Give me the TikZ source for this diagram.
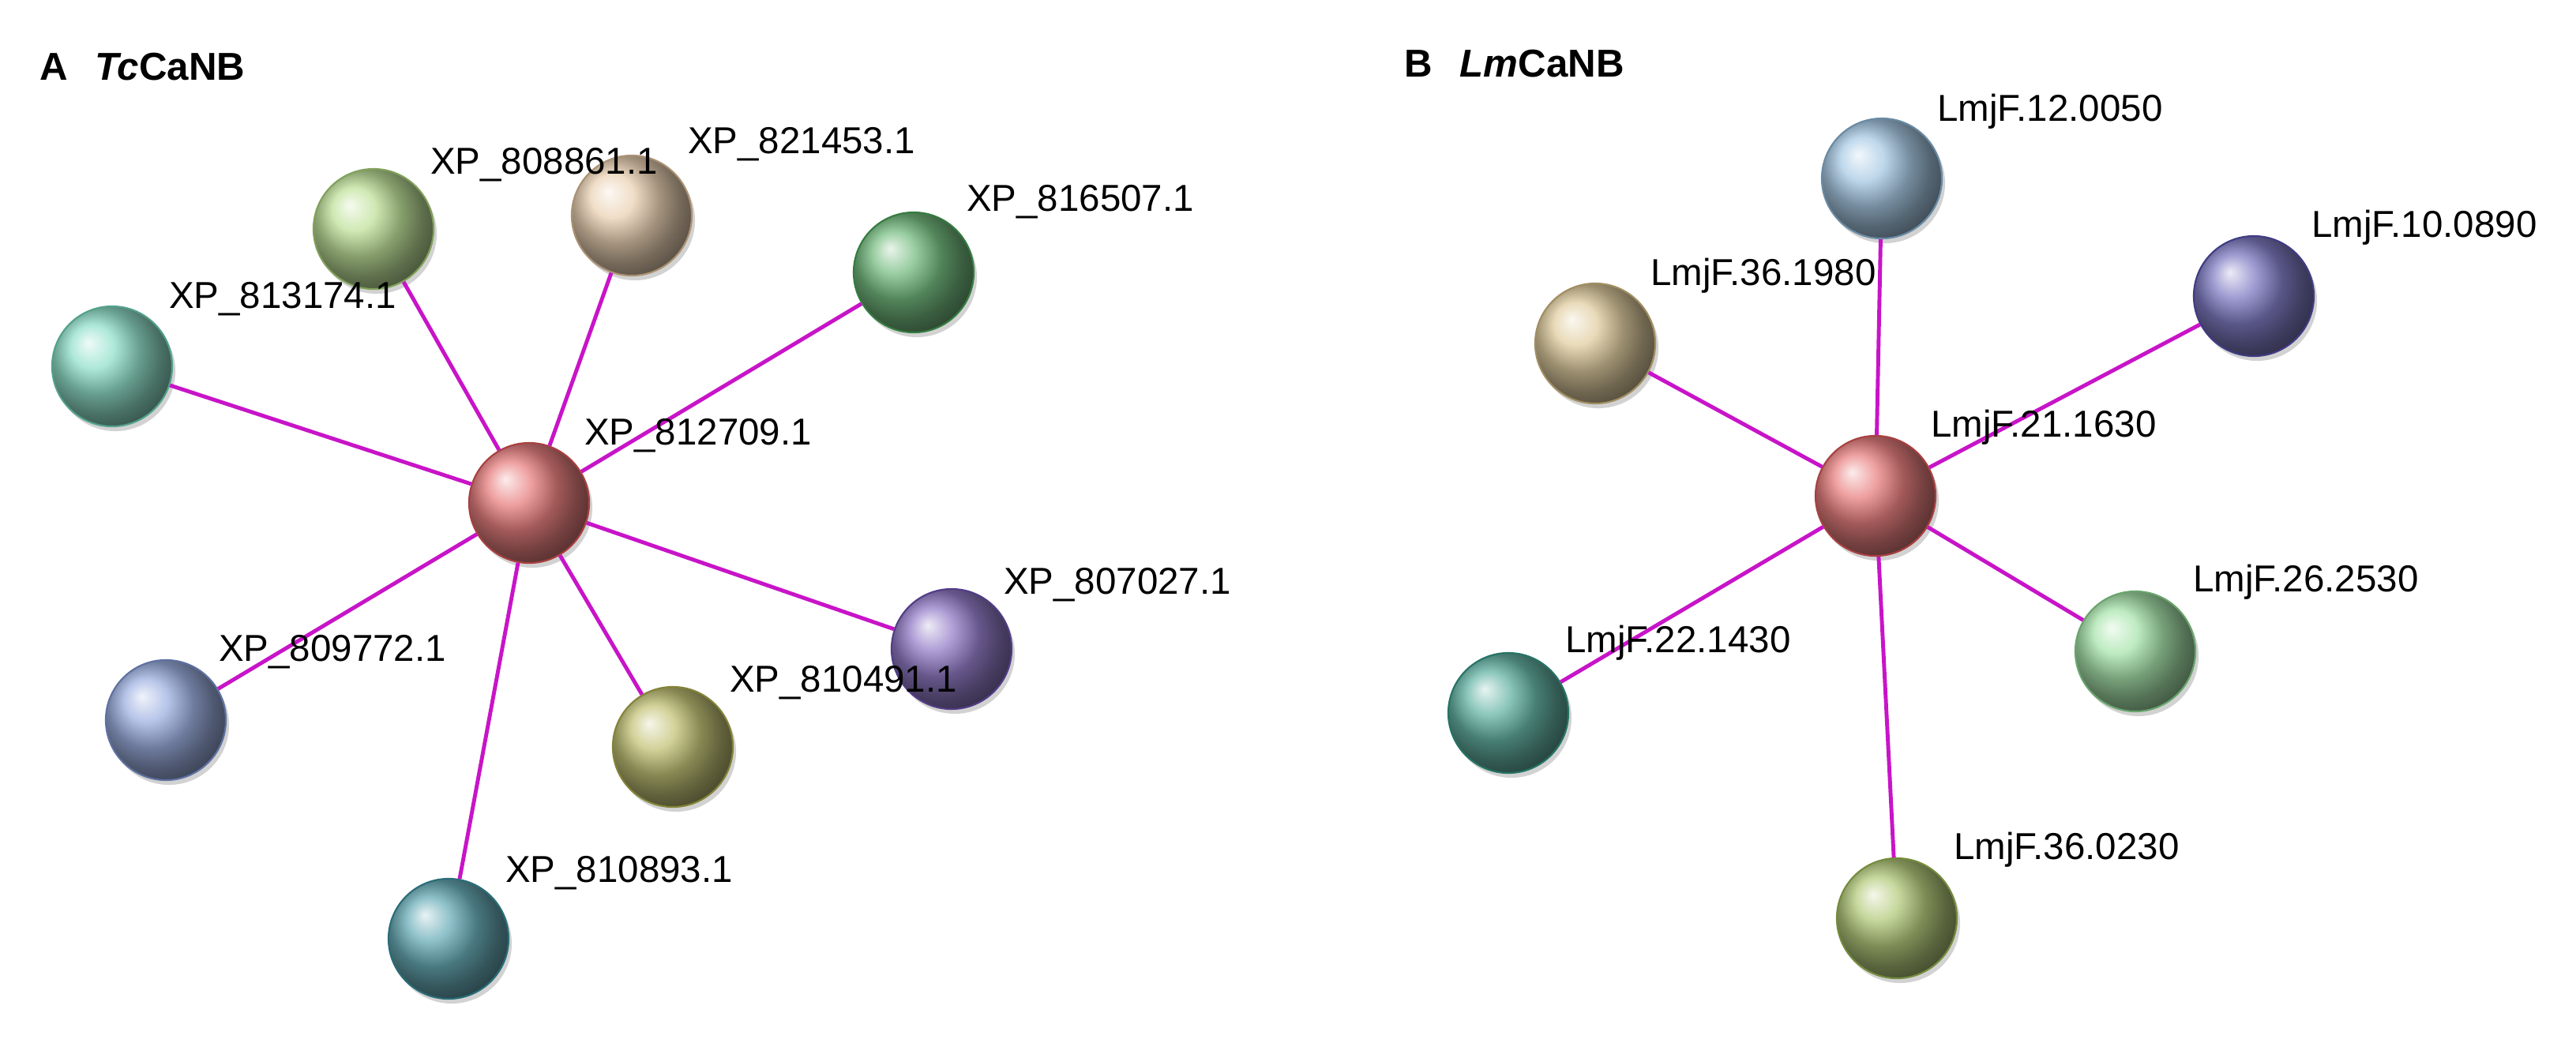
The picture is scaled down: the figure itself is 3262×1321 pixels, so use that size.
\documentclass[tikz,border=0pt]{standalone}
\usepackage{fontspec}
\setmainfont{Liberation Sans}
\usetikzlibrary{shadows}
\definecolor{edgec}{RGB}{200,20,200}
\tikzset{
  ball/.style={circle,minimum size=1.52cm,inner sep=0pt,ball color=#1!75!white,draw=#1!75!black,line width=0.6pt,drop shadow={opacity=0.35,shadow xshift=0.04cm,shadow yshift=-0.06cm}},
  lab/.style={font=\fontsize{13.5}{15}\selectfont,inner sep=0pt},
  ttl/.style={font=\fontsize{14}{16}\selectfont\bfseries,anchor=west,inner sep=0pt},
  edge/.style={draw=edgec,line width=1.4pt}
}
\definecolor{cred}{RGB}{225,85,85}
\definecolor{c1}{RGB}{170,215,120}
\definecolor{c2}{RGB}{228,195,155}
\definecolor{c3}{RGB}{70,165,85}
\definecolor{c4}{RGB}{110,215,185}
\definecolor{c5}{RGB}{125,150,215}
\definecolor{c6}{RGB}{175,175,75}
\definecolor{c7}{RGB}{110,80,180}
\definecolor{c8}{RGB}{55,145,160}
\definecolor{d1}{RGB}{140,185,220}
\definecolor{d2}{RGB}{85,80,175}
\definecolor{d3}{RGB}{215,190,130}
\definecolor{d4}{RGB}{140,220,145}
\definecolor{d5}{RGB}{50,155,135}
\definecolor{d6}{RGB}{155,185,80}
\begin{document}
\begin{tikzpicture}[x=0.01cm,y=-0.01cm]
\useasboundingbox[fill=white] (0,0) rectangle (3262,1321);
\node[ttl] (tA) at (50,85) {A\hspace{0.7em}\textit{Tc}CaNB};
\node[ttl] (tB) at (1778,81) {B\hspace{0.7em}\textit{Lm}CaNB};
% balls A
\node[ball=cred] (nA) at (670,637) {};
\node[ball=c1] (n1) at (473,290) {};
\node[ball=c2] (n2) at (800,273) {};
\node[ball=c3] (n3) at (1157,345) {};
\node[ball=c4] (n4) at (142,464) {};
\node[ball=c5] (n5) at (210,912) {};
\node[ball=c6] (n6) at (852,946) {};
\node[ball=c7] (n7) at (1205,822) {};
\node[ball=c8] (n8) at (568,1189) {};
% balls B
\node[ball=cred] (nB) at (2375,628) {};
\node[ball=d1] (m1) at (2383,226) {};
\node[ball=d2] (m2) at (2854,375) {};
\node[ball=d3] (m3) at (2020,435) {};
\node[ball=d4] (m4) at (2704,825) {};
\node[ball=d5] (m5) at (1910,903) {};
\node[ball=d6] (m6) at (2402,1163) {};
% edges
\foreach \t in {n1,n2,n3,n4,n5,n6,n7,n8} \draw[edge] (nA) -- (\t);
\foreach \t in {m1,m2,m3,m4,m5,m6} \draw[edge] (nB) -- (\t);
% labels A
\node[lab] (l1) at (689,209) {XP\_808861.1};
\node[lab] (l2) at (1015,183) {XP\_821453.1};
\node[lab] (l3) at (1368,256) {XP\_816507.1};
\node[lab] (l4) at (358,379) {XP\_813174.1};
\node[lab] (lA) at (884,552) {XP\_812709.1};
\node[lab] (l7) at (1415,741) {XP\_807027.1};
\node[lab] (l5) at (421,826) {XP\_809772.1};
\node[lab] (l6) at (1068,865) {XP\_810491.1};
\node[lab] (l8) at (784,1106) {XP\_810893.1};
% labels B
\node[lab] (k1) at (2596,141) {LmjF.12.0050};
\node[lab] (k2) at (3070,288) {LmjF.10.0890};
\node[lab] (k3) at (2233,349) {LmjF.36.1980};
\node[lab] (kB) at (2588,541) {LmjF.21.1630};
\node[lab] (k4) at (2920,737) {LmjF.26.2530};
\node[lab] (k5) at (2125,814) {LmjF.22.1430};
\node[lab] (k6) at (2617,1076) {LmjF.36.0230};
\end{tikzpicture}
\end{document}
